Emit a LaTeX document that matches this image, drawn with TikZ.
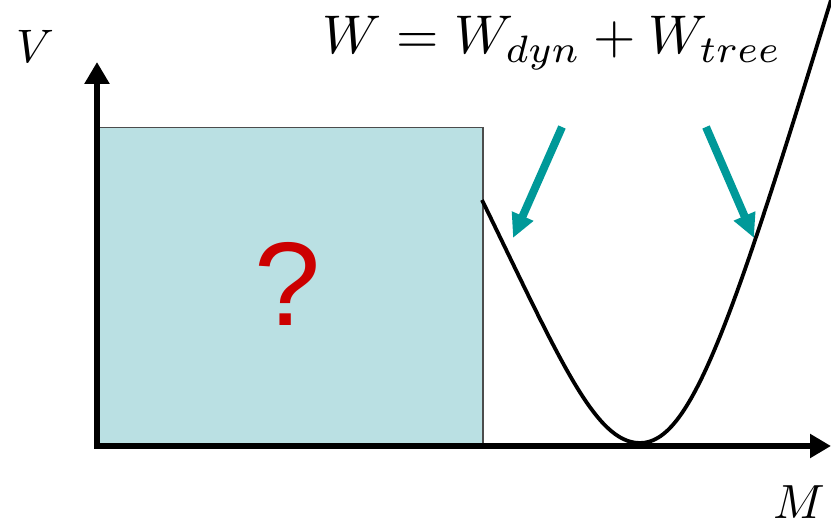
\documentclass[tikz,border=0pt]{standalone}
\usepackage{fontspec}
\newfontfamily\qfont{Liberation Sans}
\usetikzlibrary{arrows.meta}
\definecolor{boxfill}{HTML}{BAE0E3}
\definecolor{qred}{HTML}{CC0000}
\definecolor{teal}{HTML}{009999}
\tikzset{
  axis/.style={line width=6pt,-{Triangle[width=24pt,length=22pt]}},
  hint/.style={teal,line width=8pt,-{Triangle[width=22pt,length=24pt]}},
  curve/.style={line width=3.8pt},
}
\begin{document}
\begin{tikzpicture}[x=1pt,y=-1pt]
\useasboundingbox (0,0) rectangle (831,526);
\node[draw=black!70,line width=1.5pt,fill=boxfill,anchor=north west,minimum width=385pt,minimum height=318pt,inner sep=0pt] (box) at (97,127) {};
\node[text=qred,font=\qfont\fontsize{119}{120}\selectfont,inner sep=0pt] (q) at (288,284) {?};
\coordinate (o) at (97,446);
\coordinate (ytip) at (97,62);
\coordinate (xtip) at (831,446);
\draw[axis] (97,449) -- (ytip);
\draw[axis,-{Triangle[width=23pt,length=21pt]}] (94,446) -- (xtip);
\coordinate (c0) at (482,200);
\coordinate (cmin) at (640,443);
\coordinate (c1) at (831,0);
\draw[curve] (c0) .. controls (560,360) and (595,443) .. (cmin) .. controls (690,443) and (730,330) .. (c1);
\coordinate (a1s) at (562,127);
\coordinate (a1e) at (513,238);
\coordinate (a2s) at (706,127);
\coordinate (a2e) at (754,238);
\draw[hint] (a1s) -- (a1e);
\draw[hint] (a2s) -- (a2e);
\node[scale=4.7,inner sep=0pt] (V) at (35,46) {$V$};
\node[scale=4.8,inner sep=0pt] (M) at (799,502) {$M$};
\node[scale=5.45,inner sep=0pt,anchor=base] (eq) at (552,54) {$W = W_{dyn} + W_{tree}$};
\end{tikzpicture}
\end{document}
